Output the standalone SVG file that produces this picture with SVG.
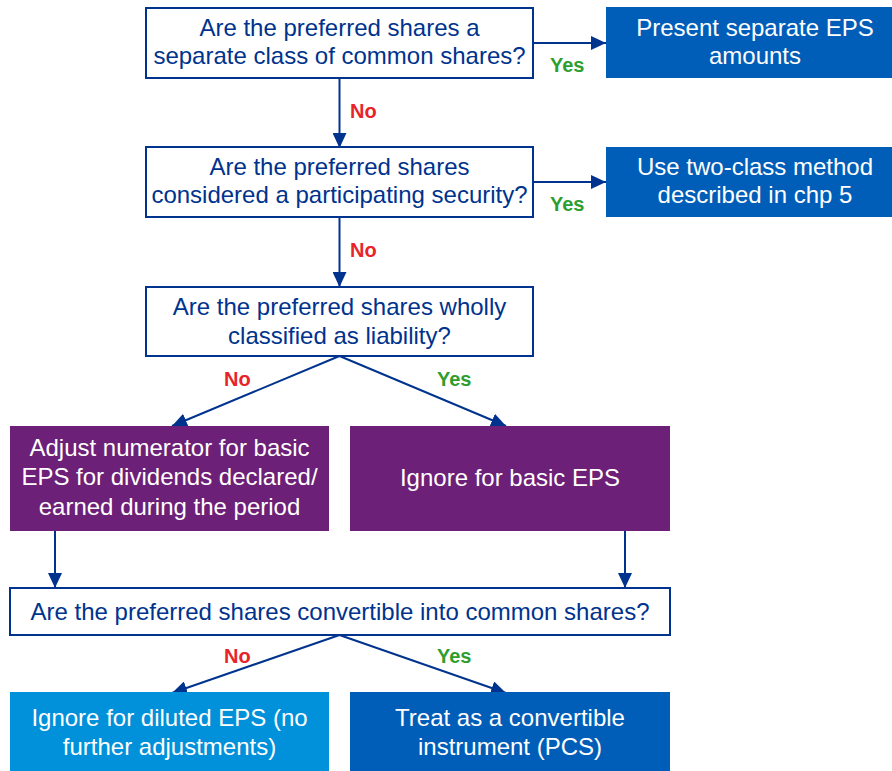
<svg xmlns="http://www.w3.org/2000/svg" width="892" height="771" viewBox="0 0 892 771">
<style>
.q{fill:#fff;stroke:#00338D;stroke-width:2}
.t{font-family:"Liberation Sans",Arial,sans-serif;font-size:24px;text-anchor:middle}
.qt{fill:#00338D}
.wt{fill:#fff}
.lbl{font-family:"Liberation Sans",Arial,sans-serif;font-size:20px;font-weight:bold}
.yes{fill:#2E9E2E}
.no{fill:#E8232A}
.c{fill:none;stroke:#00338D;stroke-width:2;marker-end:url(#ah)}
</style>
<defs>
<marker id="ah" markerUnits="userSpaceOnUse" markerWidth="16" markerHeight="14" refX="15" refY="7" orient="auto">
<path d="M0,0 L15,7 L0,14 z" fill="#00338D"/>
</marker>
</defs>
<rect width="892" height="771" fill="#fff"/>
<g id="connectors">
<line class="c" x1="533" y1="43" x2="606" y2="43"/>
<line class="c" x1="339.5" y1="78" x2="339.5" y2="148"/>
<line class="c" x1="533" y1="182" x2="606" y2="182"/>
<line class="c" x1="339.5" y1="217" x2="339.5" y2="287"/>
<line class="c" x1="339.5" y1="356" x2="172" y2="426"/>
<line class="c" x1="339.5" y1="356" x2="506" y2="426"/>
<line class="c" x1="55" y1="531" x2="55" y2="588"/>
<line class="c" x1="625" y1="531" x2="625" y2="588"/>
<line class="c" x1="339.5" y1="635" x2="172" y2="693"/>
<line class="c" x1="339.5" y1="635" x2="506" y2="693"/>
<text class="lbl yes" x="550" y="72">Yes</text>
<text class="lbl no" x="350" y="118">No</text>
<text class="lbl yes" x="550" y="211">Yes</text>
<text class="lbl no" x="350" y="257">No</text>
<text class="lbl no" x="224" y="386">No</text>
<text class="lbl yes" x="437" y="386">Yes</text>
<text class="lbl no" x="224" y="663">No</text>
<text class="lbl yes" x="437" y="663">Yes</text>
</g>
<g id="q1">
<rect class="q" x="146" y="8" width="387" height="70"/>
<text class="t qt" x="339.5" y="36">Are the preferred shares a</text>
<text class="t qt" x="339.5" y="64">separate class of common shares?</text>
</g>
<g id="r1">
<rect x="606" y="7" width="300" height="71" fill="#005EB8"/>
<text class="t wt" x="755" y="36">Present separate EPS</text>
<text class="t wt" x="755" y="64">amounts</text>
</g>
<g id="q2">
<rect class="q" x="146" y="147" width="387" height="70"/>
<text class="t qt" x="339.5" y="175">Are the preferred shares</text>
<text class="t qt" x="339.5" y="203">considered a participating security?</text>
</g>
<g id="r2">
<rect x="606" y="147" width="300" height="70" fill="#005EB8"/>
<text class="t wt" x="755" y="175">Use two-class method</text>
<text class="t wt" x="755" y="203">described in chp 5</text>
</g>
<g id="q3">
<rect class="q" x="146" y="287" width="387" height="69"/>
<text class="t qt" x="339.5" y="315">Are the preferred shares wholly</text>
<text class="t qt" x="339.5" y="344">classified as liability?</text>
</g>
<g id="p1">
<rect x="10" y="426" width="319" height="105" fill="#6D2077"/>
<text class="t wt" x="169.5" y="456">Adjust numerator for basic</text>
<text class="t wt" x="169.5" y="485">EPS for dividends declared/</text>
<text class="t wt" x="169.5" y="515">earned during the period</text>
</g>
<g id="p2">
<rect x="350" y="426" width="320" height="105" fill="#6D2077"/>
<text class="t wt" x="510" y="486">Ignore for basic EPS</text>
</g>
<g id="q4">
<rect class="q" x="10" y="588" width="660" height="47"/>
<text class="t qt" x="340" y="620">Are the preferred shares convertible into common shares?</text>
</g>
<g id="b1">
<rect x="10" y="692" width="319" height="85" fill="#0091DA"/>
<text class="t wt" x="169.5" y="726">Ignore for diluted EPS (no</text>
<text class="t wt" x="169.5" y="755">further adjustments)</text>
</g>
<g id="b2">
<rect x="350" y="692" width="320" height="85" fill="#005EB8"/>
<text class="t wt" x="510" y="726">Treat as a convertible</text>
<text class="t wt" x="510" y="755">instrument (PCS)</text>
</g>
</svg>
